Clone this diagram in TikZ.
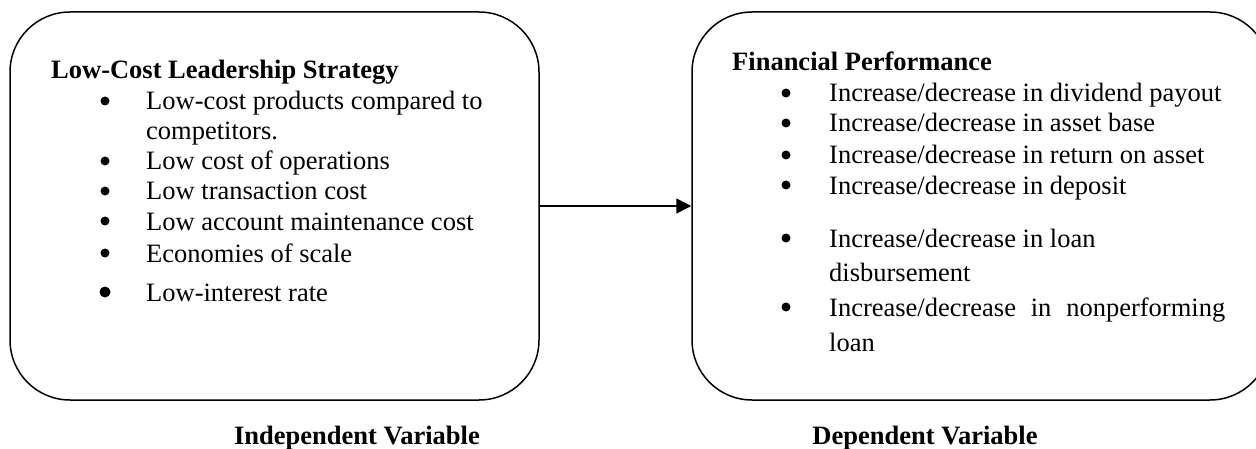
\documentclass[tikz,border=0pt]{standalone}
\usepackage{fontspec}
\setmainfont{Liberation Serif}
\usetikzlibrary{arrows.meta}
\begin{document}
\begin{tikzpicture}[x=1pt,y=1pt,
  varbox/.style={draw, line width=1.5pt, rounded corners=60pt, inner sep=0pt},
  txt/.style={anchor=base west, inner sep=0pt, font=\fontsize{26.5}{30}\selectfont},
  hdr/.style={anchor=base west, inner sep=0pt, font=\fontsize{26.5}{30}\selectfont\bfseries},
  lbl/.style={anchor=base, inner sep=0pt, font=\fontsize{26.5}{30}\selectfont\bfseries},
  bul/.style={circle, fill, inner sep=0pt, minimum size=9pt},
  conn/.style={line width=1.5pt, -{Triangle[length=15pt,width=15pt]}}]
\useasboundingbox (0,0) rectangle (1256,448);
\clip (0,0) rectangle (1256,448);
% boxes
\node[varbox, minimum width=529pt, minimum height=388pt] (iv) at (274.5,242) {};
\node[varbox, minimum width=578pt, minimum height=388pt] (dv) at (981,242) {};
\draw[conn] (iv.east) -- (dv.west);
% left content
\node[hdr] (lh) at (51,{448-70-9}) {Low-Cost Leadership Strategy};
\node[bul] (lb1) at (105,{448-101}) {};
\node[txt] (l1) at (146,{448-101-9}) {Low-cost products compared to};
\node[txt] (l1b) at (146,{448-131-9}) {competitors.};
\node[bul] (lb2) at (105,{448-161}) {};
\node[txt] (l2) at (146,{448-161-9}) {Low cost of operations};
\node[bul] (lb3) at (105,{448-191}) {};
\node[txt] (l3) at (146,{448-191-9}) {Low transaction cost};
\node[bul] (lb4) at (105,{448-221}) {};
\node[txt] (l4) at (146,{448-221-9}) {Low account maintenance cost};
\node[bul] (lb5) at (105,{448-253}) {};
\node[txt] (l5) at (146,{448-253-9}) {Economies of scale};
\node[bul, minimum size=11pt] (lb6) at (105,{448-292}) {};
\node[txt] (l6) at (146,{448-292-9}) {Low-interest rate};
% right content
\node[hdr] (rh) at (732,{448-62-9}) {Financial Performance};
\node[bul] (rb1) at (786,{448-93}) {};
\node[txt] (r1) at (829,{448-93-9}) {Increase/decrease in dividend payout};
\node[bul] (rb2) at (786,{448-123}) {};
\node[txt] (r2) at (829,{448-123-9}) {Increase/decrease in asset base};
\node[bul] (rb3) at (786,{448-155}) {};
\node[txt] (r3) at (829,{448-155-9}) {Increase/decrease in return on asset};
\node[bul] (rb4) at (786,{448-185}) {};
\node[txt] (r4) at (829,{448-185-9}) {Increase/decrease in deposit};
\node[bul] (rb5) at (786,{448-238}) {};
\node[txt] (r5) at (829,{448-238-9}) {Increase/decrease in loan};
\node[txt] (r5b) at (829,{448-272-9}) {disbursement};
\node[bul] (rb6) at (786,{448-307}) {};
\node[txt] (r6) at (829,{448-307-9}) {\makebox[396pt][s]{Increase/decrease in nonperforming}};
\node[txt] (r6b) at (829,{448-342-9}) {loan};
% labels
\node[lbl] (ivl) at (357,{448-435-9}) {Independent Variable};
\node[lbl] (dvl) at (925,{448-435-9}) {Dependent Variable};
\end{tikzpicture}
\end{document}
